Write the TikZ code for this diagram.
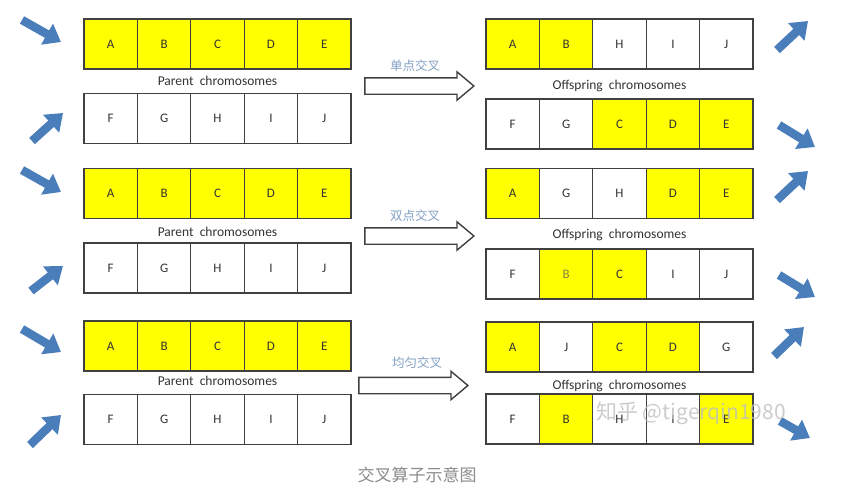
\documentclass[tikz,border=0pt]{standalone}
\usepackage{fontspec}
\setmainfont{Carlito}
\newfontfamily\cjk{Noto Sans CJK SC}
\usetikzlibrary{arrows.meta,shapes.arrows,positioning}

\definecolor{geneyellow}{RGB}{255,255,0}
\definecolor{bluearrow}{RGB}{74,126,187}
\definecolor{labelblue}{RGB}{130,160,195}

\tikzset{
	gene/.style={draw=black!75, line width=1.3pt, minimum width=53.4pt, minimum height=50pt,
		inner sep=0pt, text=black!80, font=\fontsize{13}{13}\selectfont},
	rowlabel/.style={font=\fontsize{13.5}{13.5}\selectfont, text=black!80, inner sep=0pt},
	xarrow/.style={single arrow, draw=black!75, line width=1.4pt, fill=white,
		inner xsep=0pt, inner ysep=7.5pt, minimum height=109pt, single arrow head extend=6pt,
		single arrow tip angle=80},
	xlabel/.style={font=\cjk\fontsize{12.5}{12.5}\selectfont, text=labelblue, inner sep=0pt},
	pointer/.style={bluearrow, line width=8.5pt, -{Triangle[length=16pt,width=23pt]}},
}

% one chromosome: name, left x, centre y, list of gene/fill
\newcommand{\chromrow}[4]{%
	\foreach \g/\c [count=\i] in {#4}
		\node[gene, fill=\c] (#1\i) at ({#2+26.7+53.4*(\i-1)}, #3) {\g};
}

\begin{document}
\begin{tikzpicture}[x=1pt, y=-1pt]
	\useasboundingbox[fill=white] (0,0) rectangle (846,490);

	% single point
	\chromrow{pa}{84}{44}{A/geneyellow,B/geneyellow,C/geneyellow,D/geneyellow,E/geneyellow}
	\node[rowlabel] (pl1) at (217.5,81) {Parent\ \ chromosomes};
	\chromrow{pb}{84}{118.5}{F/white,G/white,H/white,I/white,J/white}
	\chromrow{oa}{486}{44}{A/geneyellow,B/geneyellow,H/white,I/white,J/white}
	\node[rowlabel] (ol1) at (619.5,86) {Offspring\ \ chromosomes};
	\chromrow{ob}{486}{124}{F/white,G/white,C/geneyellow,D/geneyellow,E/geneyellow}
	\node[xarrow] (x1) at (414.5,86) {};
	\node[xlabel] at (415,66) {单点交叉};

	% two point
	\chromrow{qa}{84}{193.5}{A/geneyellow,B/geneyellow,C/geneyellow,D/geneyellow,E/geneyellow}
	\node[rowlabel] (pl2) at (217.5,232) {Parent\ \ chromosomes};
	\chromrow{qb}{84}{268}{F/white,G/white,H/white,I/white,J/white}
	\chromrow{ra}{486}{193.5}{A/geneyellow,G/white,H/white,D/geneyellow,E/geneyellow}
	\node[rowlabel] (ol2) at (619.5,235) {Offspring\ \ chromosomes};
	\chromrow{rb}{486}{274}{F/white,{}/geneyellow,C/geneyellow,I/white,J/white}
	\node[text=yellow!45!black, font=\fontsize{13}{13}\selectfont] at (rb2) {B};
	\node[xarrow] (x2) at (414.5,236) {};
	\node[xlabel] at (415,216) {双点交叉};

	% uniform
	\chromrow{sa}{84}{346}{A/geneyellow,B/geneyellow,C/geneyellow,D/geneyellow,E/geneyellow}
	\node[rowlabel] (pl3) at (217.5,381) {Parent\ \ chromosomes};
	\chromrow{sb}{84}{419.5}{F/white,G/white,H/white,I/white,J/white}
	\chromrow{ta}{486}{347}{A/geneyellow,J/white,C/geneyellow,D/geneyellow,G/white}
	\node[rowlabel] (ol3) at (619.5,386) {Offspring\ \ chromosomes};
	\chromrow{tb}{486}{419}{F/white,B/geneyellow,H/white,I/white,E/geneyellow}
	\node[xarrow] (x3) at (408.5,385.5) {};
	\node[xlabel] at (417,363) {均匀交叉};

	% blue pointers
	\draw[pointer] (22,20) -- (61,42);
	\draw[pointer] (32,141) -- (63,113);
	\draw[pointer] (777,50) -- (808,21);
	\draw[pointer] (779,125) -- (815,147);

	\draw[pointer] (22,170) -- (61,192);
	\draw[pointer] (31,291) -- (63,266);
	\draw[pointer] (777,200) -- (808,171);
	\draw[pointer] (779,275) -- (815,297);

	\draw[pointer] (22,329) -- (61,352);
	\draw[pointer] (30,445) -- (61,415);
	\draw[pointer] (774,356) -- (804,327);
	\draw[pointer] (780,421) -- (810,438);

	\node[font=\cjk\fontsize{21}{21}\selectfont, text=black!25, opacity=0.8] (wm) at (691,413) {知乎 @tigerqin1980};
	\node[font=\cjk\fontsize{17}{17}\selectfont, text=black!45] (cap) at (417,475) {交叉算子示意图};
\end{tikzpicture}
\end{document}
